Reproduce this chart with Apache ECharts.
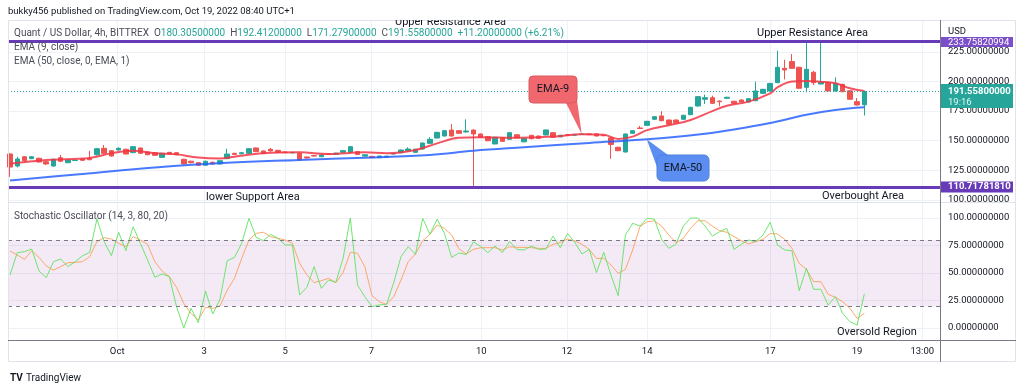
<!DOCTYPE html>
<html><head><meta charset="utf-8">
<script src="https://cdn.jsdelivr.net/npm/echarts@6/dist/echarts.min.js"></script>
<style>html,body{margin:0;padding:0;background:#fff;}#c{width:1024px;height:391px;}</style>
</head><body><div id="c"></div>
<script>
// ---- data (4h candles, Quant / USD, BITTREX) ----
const candleOpen = [138.8,128.7,136.5,134.9,135.2,132.3,128.7,135.7,131.5,133.3,
 134.6,135.2,138.2,143.6,141.6,142.2,142.8,140,143.9,140.5,
 139.9,136,140.2,139.9,134.3,132.7,131.5,129.3,131.8,130.4,
 134.9,139.4,139,139.4,143.9,141.4,142.8,141.9,140.5,139.8,
 139.4,136.3,137.5,136.5,138.8,138.5,140.2,140.2,140.8,137,
 136.8,135.7,136,138.8,139.9,141.4,140.2,143,147.8,152.3,
 154,159,158.5,157.4,159,155.7,153.4,147.3,152.5,151.2,
 155,149.1,154.6,154,154.9,156.8,153.3,155,154.7,155.3,
 155.8,155.8,154.5,152.4,144.5,140.5,156.3,160.8,163,168.1,
 170.9,167.5,167.5,168.1,172,179.3,185,186.3,183.5,185.8,
 183.3,184.4,182.7,183.8,190,192,199,211.1,216.8,212,
 195.1,207.8,197.9,199,192,197.6,192.2,183,180.305];
const candleClose = [127.8,134.6,133.2,136.5,132.1,130.4,134.3,132.7,133.8,133.6,
 133.5,134,143.3,139.4,137.1,143.6,138.8,145,139.4,138.2,
 137.7,139.4,139,138.2,130.4,131.5,129.3,132.7,130.4,133.2,
 138.8,138.5,139.9,143.3,140.8,139.4,141.4,140.2,140,140.2,
 133.8,135.4,137.1,138,138.4,139.5,141.6,145,138.5,138.2,
 135.8,137.1,137,139.3,142.2,143,142.8,148.1,151.2,157.1,
 158.5,154,156.3,158.2,155.7,152.9,150,152.9,149.5,156.8,
 152.5,151.9,151.7,152,159.1,152.9,154.6,154.5,155.1,155.7,
 155.2,154,154.2,146.9,141.6,155.7,158.5,160.3,166.4,170.3,
 166.9,163.9,165.2,171.5,178.2,187.2,186.3,181.6,183,186.7,
 181.6,182.7,185.5,192,193.4,198.4,212,209.7,211.1,194.3,
 210.3,199,199.8,192,198.4,191.4,185,180.2,191.558];
const candleLow = [119.5,127.5,132.5,134.5,131.5,129.5,128,132,131,133,
 133,133.5,137.5,139,136.5,141.8,138.5,139.5,139,137.8,
 137.2,135.6,138.6,137.8,130,131,128.8,129,130,130,
 134.5,138,138.6,139,140.4,139,141,139.8,139.6,139.5,
 133.4,135,136.8,136.2,138,138.2,139.9,139.8,138.2,136.8,
 135.5,135.4,135.7,138.5,139.5,141,139.8,142.6,147.4,152,
 153.6,153.6,155.9,157,110.7,152.5,149.6,146.9,149.1,150.8,
 152.1,148.7,151.3,151.6,154.5,152.5,153,154.2,154.4,155,
 154.9,153.6,153.9,134.8,141.2,140.1,156,160,162.6,167.8,
 166.5,163.5,164.8,167.7,171.6,178.9,181,181.2,179,185.4,
 181.2,182.3,182.3,183.4,189.6,191.6,198.6,201.8,210.7,193.9,
 190.9,197,197.5,191.6,191.6,191,184.6,179.8,171.279];
const candleHigh = [139.5,136.5,137,137,135.8,133,135,138,134.3,134,
 135,141.5,144,146.4,142,144.5,143.2,145.5,144.3,141,
 140.3,139.8,140.6,140.3,134.8,133.2,132,133.2,132.3,133.6,
 143.3,139.8,140.3,143.8,144.3,141.8,143.8,142.3,140.9,140.6,
 139.8,136.7,137.9,138.4,139.2,139.9,142,145.5,141.2,138.5,
 137.2,137.4,137.3,139.6,142.6,144.5,143.2,148.5,153,157.5,
 159,164.1,159,168.1,159.5,156.1,153.8,153.3,152.9,157.5,
 155.4,152.3,155,154.4,159.5,157.2,155,155.4,155.5,156,
 156.1,156.2,154.8,152.8,144.9,156.1,158.9,162.5,166.8,170.7,
 174.9,167.9,167.9,171.9,178.6,187.6,189,188,183.9,187.1,
 183.7,184.8,185.9,199.9,193.8,198.8,226,218.4,223.2,212.4,
 233.5,209,232.7,199.4,203.5,198,192.6,186,192.412];

// EMA lines read at sample candles
const ema9Idx = [0,5,11,14,17,20,23,26,29,31,35,40,44,49,52,56,59,62,65,70,75,79,82,84,86,88,91,94,97,99,102,105,106,108,110,112,114,116,118];
const ema9Val = [130.5,133.8,135.5,139.4,141.5,139.5,138.5,135.8,135,136.5,139.4,140.2,138.8,140.2,139.4,142.2,147.8,152.5,153,152.5,153.5,155.5,155,151.5,153.5,159,163,167.5,175,179.5,183,190,195,200,200.5,199.8,198.5,194.3,192];
const ema50Idx = [0,10,20,30,40,49,58,64,71,80,88,96,100,105,110,114,118];
const ema50Val = [116.5,122,127.5,131.5,133.8,135.7,138,141.5,144.5,148.2,151.2,156,159.5,165,172,176,178.2];

// Stochastic (14,3)
const stochK = [48.2,68.5,69.4,71.8,51.8,45.8,60.3,62.7,55.8,60.3,
 65.5,68.8,99,78.5,65.8,87,70.3,92.1,77,61.8,
 46.1,49.1,46.7,19.4,0,17.9,4.8,33.6,12.7,26.1,
 61.2,64.2,77,99.7,82.4,79.4,85.2,81.5,75.5,75.5,
 30,37,55.8,36,43.6,41.5,63.3,100,39,28.5,
 19.4,21,21.5,41.2,64.8,73.9,67,99.7,85.2,99,
 86,64.2,68.2,66.8,78.2,74.2,68.5,74.5,68.5,78.5,
 71.5,70.9,74.5,71.5,71.8,83.6,73,86,77.9,67.3,
 71.5,50.3,68.8,48.2,29.4,84.5,95.2,92.7,99.7,99,
 80.6,72.4,76.4,92.7,100,100,92.7,83.6,87.5,90.6,
 71.5,76.1,80,78.5,84.5,96.1,75.5,70.9,70.3,33.9,
 54.2,35.2,35.2,20.9,28.5,13.3,5.8,2.7,30.9];
const stochD = [70,66.4,62.4,70.3,64.2,56.4,52.7,55.8,59.4,59.7,
 60.3,64.8,78.5,82.1,80.9,77,73.9,83,80,76.1,
 60.3,51.8,46.7,37,22.4,13.3,7.3,18.8,17.9,20,
 34.5,45.2,63.3,80,86,87,83,81.5,80,77,
 58.8,48.2,41.2,43,45.2,41.2,50.3,68.8,67.9,55.8,
 29.4,23.9,21.5,28.5,43.6,60.3,67.3,79.4,85.2,93.6,
 90.6,84.5,72,67.3,71.5,73,73,73,70.9,73.9,
 73.3,73.3,73,72.4,72.4,76.1,77.6,80.9,79.1,76.1,
 71.5,63.3,63.3,57.3,49.7,53.3,70.9,92.1,96.6,97.3,
 92.7,84.5,77.6,81.5,90.6,97.5,97.5,92.7,88.5,87,
 83,79.4,76.4,78.5,80.6,86,85.5,80.6,72.4,58.8,
 53.3,42.1,42.1,30.6,27.9,23.9,17.9,8.8,13.3];

// axes
const timeTickIdx = [14.8,26.8,38,49.9,65.1,76.9,88,105,117,126];
const timeTickLabels = ['Oct','3','5','7','10','12','14','17','19','13:00'];
const priceTicks = [100,125,150,175,200,225];
const stochTicks = [0,25,50,75,100];
const resistanceLevel = 233.75820994;
const supportLevel = 110.71781810;
const lastPrice = 191.558;
const stochUpper = 80, stochLower = 20;

// ---- chart ----
const FONT = 'Roboto, "Noto Sans", sans-serif';
const TXT = '#131722';
const GRIDC = '#eef1f6';
const chart = echarts.init(document.getElementById('c'));
const candles = candleOpen.map((o,i)=>[i,o,candleClose[i],candleLow[i],candleHigh[i]]);
const ema9 = ema9Idx.map((x,i)=>[x,ema9Val[i]]);
const ema50 = ema50Idx.map((x,i)=>[x,ema50Val[i]]);
const kData = stochK.map((v,i)=>[i,v]);
const dData = stochD.map((v,i)=>[i,v]);
const X_MIN = -0.28, X_MAX = -0.28 + 933/7.24;

const xCommon = {type:'value', min:X_MIN, max:X_MAX, axisLine:{show:false},
  axisTick:{show:false, customValues:timeTickIdx},
  splitLine:{show:true, lineStyle:{color:GRIDC, width:1}}};
const lab = {color:TXT, fontSize:9.5, fontFamily:FONT};

chart.setOption({
  animation:false,
  textStyle:{fontFamily:FONT},
  grid:[{left:8, top:20, width:933, height:182},{left:8, top:203, width:933, height:137}],
  xAxis:[
    Object.assign({gridIndex:0, axisLabel:{show:false}}, xCommon),
    Object.assign({gridIndex:1, axisLabel:Object.assign({show:true, customValues:timeTickIdx, margin:7,
      formatter:v=>{const k=timeTickIdx.findIndex(t=>Math.abs(t-v)<1e-6);return k>=0?timeTickLabels[k]:'';}}, lab)}, xCommon)
  ],
  yAxis:[
    {type:'value', gridIndex:0, position:'right', min:98.31, max:251.9, axisLine:{show:false},
     axisTick:{show:false, customValues:priceTicks},
     axisLabel:Object.assign({customValues:priceTicks, margin:7, formatter:v=>v.toFixed(8)}, lab),
     splitLine:{show:true, lineStyle:{color:GRIDC}}},
    {type:'value', gridIndex:1, position:'right', min:-10.91, max:113.64, axisLine:{show:false},
     axisTick:{show:false, customValues:stochTicks},
     axisLabel:Object.assign({customValues:stochTicks, margin:7, formatter:v=>v.toFixed(8)}, lab),
     splitLine:{show:true, lineStyle:{color:GRIDC}}}
  ],
  series:[
    {type:'candlestick', xAxisIndex:0, yAxisIndex:0, data:candles, encode:{x:0,y:[1,2,3,4]}, barWidth:5,
     itemStyle:{color:'#26a69a', color0:'#ef5350', borderColor:'#26a69a', borderColor0:'#ef5350', borderWidth:1},
     markLine:{silent:true, symbol:['none','none'], label:{show:false},
       data:[
         {yAxis:resistanceLevel, lineStyle:{color:'#673ab7', width:3, type:'solid'}},
         {yAxis:supportLevel, lineStyle:{color:'#673ab7', width:3, type:'solid'}},
         {yAxis:lastPrice, lineStyle:{color:'#26a69a', width:1, type:[1,2]}}
       ]}},
    {type:'line', xAxisIndex:0, yAxisIndex:0, data:ema50, symbol:'none', smooth:0.4,
     lineStyle:{color:'#2962ff', width:2, opacity:0.85}},
    {type:'line', xAxisIndex:0, yAxisIndex:0, data:ema9, symbol:'none', smooth:0.4,
     lineStyle:{color:'#f23645', width:2, opacity:0.85}},
    {type:'line', xAxisIndex:1, yAxisIndex:1, data:dData, symbol:'none',
     lineStyle:{color:'#ff9a52', width:1, opacity:0.85},
     markArea:{silent:true, itemStyle:{color:'rgba(150,60,165,0.11)'}, data:[[{yAxis:stochLower},{yAxis:stochUpper}]]},
     markLine:{silent:true, symbol:['none','none'], label:{show:false},
       lineStyle:{color:'#787b86', width:1, type:[4,4]}, data:[{yAxis:stochUpper},{yAxis:stochLower}]}},
    {type:'line', xAxisIndex:1, yAxisIndex:1, data:kData, symbol:'none',
     lineStyle:{color:'#5fe35f', width:1, opacity:0.9}}
  ],
  graphic:[
    // frame
    {type:'rect', z:50, shape:{x:8.5,y:20.5,width:1007,height:341}, style:{fill:'none', stroke:'#e0e3eb', lineWidth:1}},
    {type:'line', z:50, shape:{x1:8,y1:202.5,x2:1016,y2:202.5}, style:{stroke:'#e0e3eb', lineWidth:1}},
    {type:'line', z:51, shape:{x1:940.5,y1:20,x2:940.5,y2:362}, style:{stroke:'#787b86', lineWidth:1}},
    {type:'line', z:51, shape:{x1:8,y1:340.5,x2:1016,y2:340.5}, style:{stroke:'#787b86', lineWidth:1}},
    // header
    {type:'text', z:60, style:{x:8, y:12, text:'bukky456 published on TradingView.com, Oct 19, 2022 08:40 UTC+1', font:'9.5px '+FONT, fill:TXT, textVerticalAlign:'middle'}},
    // clipped annotation at top
    {type:'text', z:55, style:{x:395, y:22, text:'Upper Resistance Area', font:'11px '+FONT, fill:TXT, textVerticalAlign:'middle'}},
    {type:'rect', z:56, shape:{x:390,y:0,width:125,height:20}, style:{fill:'#fff'}},
    // legend
    {type:'text', z:60, style:{x:14, y:33, text:'Quant / US Dollar, 4h, BITTREX  O{g|180.30500000}  H{g|192.41200000}  L{g|171.27900000}  C{g|191.55800000}  {g|+11.20000000 (+6.21%)}',
      font:'10px '+FONT, fill:'#4a4d57', textVerticalAlign:'middle', rich:{g:{fill:'#26a69a', font:'10px '+FONT}}}},
    {type:'text', z:60, style:{x:14, y:47, text:'EMA (9, close)', font:'10px '+FONT, fill:'#4a4d57', textVerticalAlign:'middle'}},
    {type:'text', z:60, style:{x:14, y:61, text:'EMA (50, close, 0, EMA, 1)', font:'10px '+FONT, fill:'#4a4d57', textVerticalAlign:'middle'}},
    // annotations
    {type:'text', z:60, style:{x:757, y:33, text:'Upper Resistance Area', font:'11px '+FONT, fill:TXT, textVerticalAlign:'middle'}},
    {type:'text', z:60, style:{x:206, y:197, text:'lower Support Area', font:'11px '+FONT, fill:TXT, textVerticalAlign:'middle'}},
    {type:'text', z:60, style:{x:822, y:196, text:'Overbought Area', font:'11px '+FONT, fill:TXT, textVerticalAlign:'middle'}},
    {type:'text', z:60, style:{x:837, y:332, text:'Oversold Region', font:'11px '+FONT, fill:TXT, textVerticalAlign:'middle'}},
    {type:'text', z:60, style:{x:14, y:216, text:'Stochastic Oscillator (14, 3, 80, 20)', font:'10px '+FONT, fill:'#4a4d57', textVerticalAlign:'middle'}},
    // callouts
    {type:'polygon', z:60, shape:{points:[[565,101],[576,93],[581.7,134]]}, style:{fill:'#f0686d'}},
    {type:'rect', z:61, shape:{x:529,y:76,width:48,height:27,r:4}, style:{fill:'#f0686d', stroke:'#d85b60', lineWidth:1}},
    {type:'text', z:62, style:{x:553, y:89.5, text:'EMA-9', font:'11px '+FONT, fill:TXT, textAlign:'center', textVerticalAlign:'middle'}},
    {type:'polygon', z:60, shape:{points:[[657,167],[668,155],[646.7,139.3]]}, style:{fill:'#5b8ef0'}},
    {type:'rect', z:61, shape:{x:657,y:155,width:52,height:26,r:5}, style:{fill:'#5b8ef0', stroke:'#4f80e0', lineWidth:1}},
    {type:'text', z:62, style:{x:683, y:168, text:'EMA-50', font:'11px '+FONT, fill:TXT, textAlign:'center', textVerticalAlign:'middle'}},
    // price scale extras
    {type:'text', z:60, style:{x:948, y:32, text:'USD', font:'9.5px '+FONT, fill:TXT, textVerticalAlign:'middle'}},
    {type:'rect', z:60, shape:{x:941,y:37,width:72,height:10}, style:{fill:'#7b4fc9'}},
    {type:'text', z:61, style:{x:948, y:42.5, text:'233.75820994', font:'9.5px '+FONT, fill:'#fff', textVerticalAlign:'middle'}},
    {type:'rect', z:60, shape:{x:941,y:84,width:72,height:24}, style:{fill:'#26a69a'}},
    {type:'text', z:61, style:{x:948, y:91.5, text:'191.55800000', font:'bold 9.5px '+FONT, fill:'#fff', textVerticalAlign:'middle'}},
    {type:'text', z:61, style:{x:948, y:102.5, text:'19:16', font:'9.5px '+FONT, fill:'#e6f5f3', textVerticalAlign:'middle'}},
    {type:'rect', z:60, shape:{x:941,y:181.5,width:72,height:11}, style:{fill:'#673ab7'}},
    {type:'text', z:61, style:{x:948, y:187, text:'110.71781810', font:'bold 9.5px '+FONT, fill:'#fff', textVerticalAlign:'middle'}},
    // footer logo
    {type:'text', z:60, style:{x:10, y:378, text:'TV', font:'bold 10px '+FONT, fill:TXT, textVerticalAlign:'middle'}},
    {type:'text', z:60, style:{x:26, y:378, text:'TradingView', font:'10px '+FONT, fill:TXT, textVerticalAlign:'middle'}}
  ]
});
</script>
</body></html>
